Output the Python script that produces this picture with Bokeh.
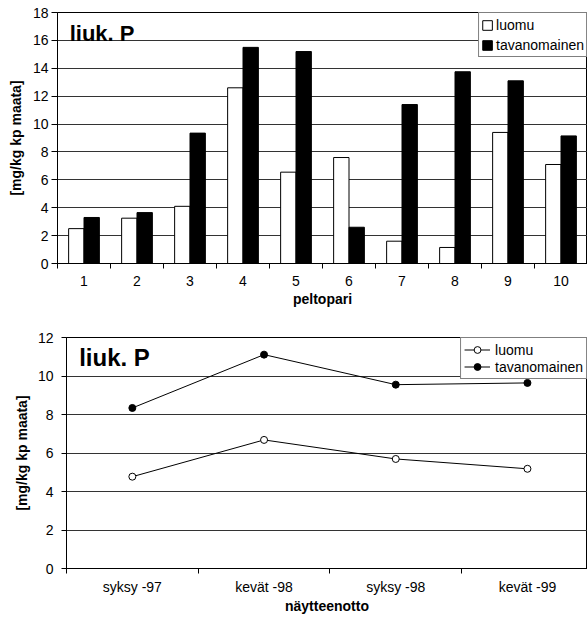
from bokeh.plotting import figure
from bokeh.models import Range1d, FixedTicker, Label, Legend, LegendItem
from bokeh.embed import file_html
from bokeh.resources import INLINE

FONT = "Liberation Sans"

# ---- data: top chart (bars) ----
pairs = [1, 2, 3, 4, 5, 6, 7, 8, 9, 10]
luomu_bar = [2.5, 3.25, 4.1, 12.6, 6.55, 7.6, 1.6, 1.15, 9.4, 7.1]
tavan_bar = [3.3, 3.65, 9.35, 15.5, 15.2, 2.6, 11.4, 13.75, 13.1, 9.15]
y_ticks_top = [0, 2, 4, 6, 8, 10, 12, 14, 16, 18]

# ---- data: bottom chart (lines) ----
seasons = ["syksy -97", "kevät -98", "syksy -98", "kevät -99"]
luomu_line = [4.77, 6.68, 5.69, 5.18]
tavan_line = [8.34, 11.11, 9.55, 9.64]
y_ticks_bottom = [0, 2, 4, 6, 8, 10, 12]

y_label = "[mg/kg kp maata]"
title_text = "liuk. P"


def style(p, tick_out, label_standoff, axis_label_standoff, ylabel_standoff, ylabel_tick_out, ylabel_std):
    p.outline_line_color = "black"
    p.outline_line_width = 1
    p.xgrid.grid_line_color = None
    p.ygrid.grid_line_color = "#333333"
    p.ygrid.grid_line_width = 1
    for ax in (p.xaxis[0], p.yaxis[0]):
        ax.axis_line_color = "black"
        ax.major_label_text_font = FONT
        ax.major_label_text_font_size = "14px"
        ax.major_label_text_color = "black"
        ax.axis_label_text_font = FONT
        ax.axis_label_text_font_size = "14px"
        ax.axis_label_text_font_style = "bold"
        ax.axis_label_text_color = "black"
        ax.major_tick_in = 0
        ax.minor_tick_in = 0
    xa = p.xaxis[0]
    xa.major_tick_line_color = None
    xa.major_tick_out = tick_out
    xa.minor_tick_out = tick_out
    xa.minor_tick_line_color = "black"
    xa.major_label_standoff = label_standoff
    xa.axis_label_standoff = axis_label_standoff
    ya = p.yaxis[0]
    ya.major_tick_out = ylabel_tick_out
    ya.major_tick_line_color = "black"
    ya.minor_tick_line_color = None
    ya.major_label_standoff = ylabel_std
    ya.axis_label_standoff = ylabel_standoff


# ---------------- top chart ----------------
p1 = figure(frame_width=530, frame_height=251, min_border_left=57, min_border_top=12,
            min_border_right=0, min_border_bottom=55,
            x_range=Range1d(0.5, 10.5), y_range=Range1d(0, 18),
            output_backend="svg", toolbar_location=None,
            x_axis_label="peltopari", y_axis_label=y_label)
p1.xaxis[0].ticker = FixedTicker(ticks=pairs, minor_ticks=[k - 0.5 for k in pairs] + [pairs[-1] + 0.5])
p1.yaxis[0].ticker = FixedTicker(ticks=y_ticks_top)
style(p1, 5, 7, 2, 6, 6, 3)

bar_w = 0.29
r_l = p1.vbar(x=[k - 0.145 for k in pairs], top=luomu_bar, width=bar_w, bottom=0,
              fill_color="white", line_color="black", line_width=1)
r_t = p1.vbar(x=[k + 0.145 for k in pairs], top=tavan_bar, width=bar_w, bottom=0,
              fill_color="black", line_color="black", line_width=1)

p1.add_layout(Label(x=0.73, y=16.5, text=title_text, text_font=FONT, text_font_size="22px",
                    text_font_style="bold", text_color="black", text_baseline="alphabetic"))

leg1 = Legend(items=[LegendItem(label="luomu", renderers=[r_l]),
                     LegendItem(label="tavanomainen", renderers=[r_t])],
              location="top_right", margin=0, padding=2, spacing=1,
              glyph_width=12, glyph_height=12, label_height=19, label_standoff=3,
              label_text_font=FONT, label_text_font_size="14px", label_text_color="black",
              border_line_color="black", border_line_width=1, background_fill_alpha=1)
p1.add_layout(leg1, "center")

# ---------------- bottom chart ----------------
xs = [i + 0.5 for i in range(len(seasons))]
p2 = figure(frame_width=521, frame_height=231, min_border_left=66, min_border_top=19,
            min_border_right=0, min_border_bottom=51,
            x_range=Range1d(0, 521 / 131.7), y_range=Range1d(0, 12),
            output_backend="svg", toolbar_location=None,
            x_axis_label="näytteenotto", y_axis_label=y_label)
p2.xaxis[0].ticker = FixedTicker(ticks=xs, minor_ticks=list(range(len(seasons) + 1)))
p2.xaxis[0].major_label_overrides = {x: s for x, s in zip(xs, seasons)}
p2.yaxis[0].ticker = FixedTicker(ticks=y_ticks_bottom)
style(p2, 5, 5, 0, 5, 5, 8)

l1 = p2.line(xs, luomu_line, line_color="black", line_width=1)
c1 = p2.scatter(xs, luomu_line, marker="circle", size=7, fill_color="white", line_color="black")
l2 = p2.line(xs, tavan_line, line_color="black", line_width=1)
c2 = p2.scatter(xs, tavan_line, marker="circle", size=7, fill_color="black", line_color="black")

p2.add_layout(Label(x=0.096, y=10.95, text=title_text, text_font=FONT, text_font_size="24px",
                    text_font_style="bold", text_color="black", text_baseline="alphabetic"))

leg2 = Legend(items=[LegendItem(label="luomu", renderers=[l1, c1]),
                     LegendItem(label="tavanomainen", renderers=[l2, c2])],
              location="top_right", margin=0, padding=3, spacing=0,
              glyph_width=26, glyph_height=17, label_height=17, label_standoff=5,
              label_text_font=FONT, label_text_font_size="14px", label_text_color="black",
              border_line_color="black", border_line_width=1, background_fill_alpha=1)
p2.add_layout(leg2, "center")

open("out.html", "w").write(file_html([p1, p2], INLINE))
